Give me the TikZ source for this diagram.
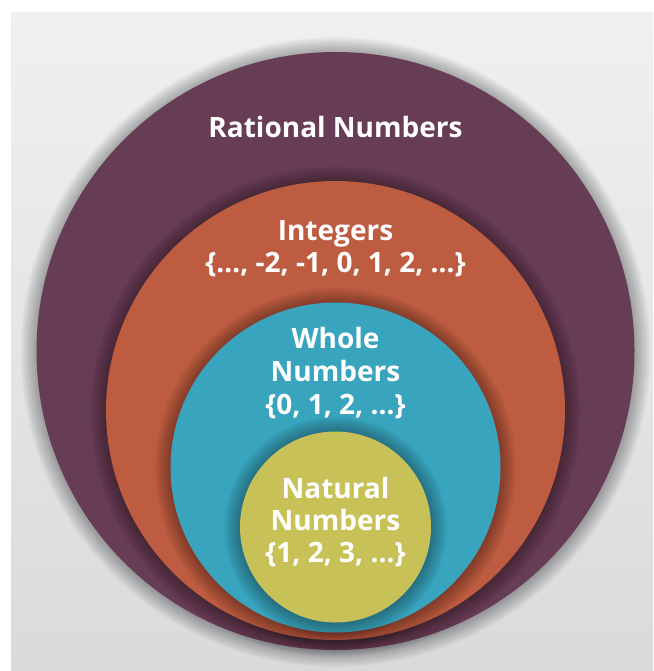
\documentclass[tikz,border=0pt]{standalone}
\usepackage{fontspec}
\newfontfamily\labelfont{Open Sans}
\definecolor{bgtop}{HTML}{EFF0F0}
\definecolor{bgbot}{HTML}{D9DADC}
\definecolor{ratcol}{HTML}{673D56}
\definecolor{intcol}{HTML}{BE5C42}
\definecolor{wholecol}{HTML}{39A4BD}
\definecolor{natcol}{HTML}{C8C158}
\newcommand\softshadow[3]{%
  \foreach \k in {1,...,16} {\fill[black,opacity=0.02] (#1,#2+1) circle [radius={(#3+\k)*1pt}];}%
}
\begin{document}
\begin{tikzpicture}[x=1pt,y=-1pt,
  lbl/.style={text=white,font=\labelfont\bfseries\fontsize{28}{33}\selectfont,anchor=base,inner sep=0pt},
  set/.style={draw=none}]
\useasboundingbox (0,0) rectangle (653,671);
\fill[white] (0,0) rectangle (653,671);
\shade[top color=bgtop,bottom color=bgbot] (11,13) rectangle (653,671);
% Rational
\softshadow{335.5}{351}{299}
\fill[ratcol] (335.5,351) circle [radius=299pt];
% Integers
\softshadow{335.5}{410.5}{229.5}
\fill[intcol] (335.5,410.5) circle [radius=229.5pt];
% Whole
\softshadow{335.5}{467.5}{165}
\fill[wholecol] (335.5,467.5) circle [radius=165pt];
% Natural
\softshadow{335.5}{527}{95.5}
\fill[natcol] (335.5,527) circle [radius=95.5pt];
% labels
\node[lbl] (rat) at (335.5,138) {Rational Numbers};
\node[lbl] (int1) at (335.5,240) {Integers};
\node[lbl] (int2) at (335.5,272) {\{…, -2, -1, 0, 1, 2, …\}};
\node[lbl] (wh1) at (335.5,348) {Whole};
\node[lbl] (wh2) at (335.5,381) {Numbers};
\node[lbl] (wh3) at (335.5,414) {\{0, 1, 2, …\}};
\node[lbl] (na1) at (335.5,498) {Natural};
\node[lbl] (na2) at (335.5,530) {Numbers};
\node[lbl] (na3) at (335.5,562) {\{1, 2, 3, …\}};
\end{tikzpicture}
\end{document}
